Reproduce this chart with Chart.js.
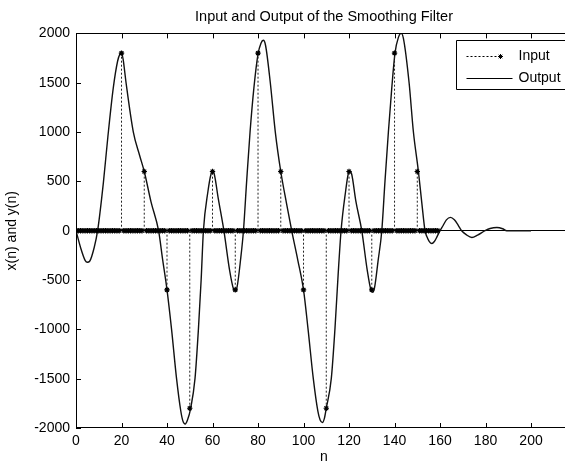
<!DOCTYPE html>
<html>
<head>
<meta charset="utf-8">
<style>
  html, body { margin: 0; padding: 0; overflow: hidden; background: #fff; }
</style>
<script src="https://cdn.jsdelivr.net/npm/chart.js@4/dist/chart.umd.min.js"></script>
</head>
<body>
<canvas id="grafica" width="565" height="466"></canvas>
<script>
// x(n): one value per sample, n = 0 .. 159
const inputValues = [
  0, 0, 0, 0, 0, 0, 0, 0, 0, 0,
  0, 0, 0, 0, 0, 0, 0, 0, 0, 0,
  1800, 0, 0, 0, 0, 0, 0, 0, 0, 0,
  600, 0, 0, 0, 0, 0, 0, 0, 0, 0,
  -600, 0, 0, 0, 0, 0, 0, 0, 0, 0,
  -1800, 0, 0, 0, 0, 0, 0, 0, 0, 0,
  600, 0, 0, 0, 0, 0, 0, 0, 0, 0,
  -600, 0, 0, 0, 0, 0, 0, 0, 0, 0,
  1800, 0, 0, 0, 0, 0, 0, 0, 0, 0,
  600, 0, 0, 0, 0, 0, 0, 0, 0, 0,
  -600, 0, 0, 0, 0, 0, 0, 0, 0, 0,
  -1800, 0, 0, 0, 0, 0, 0, 0, 0, 0,
  600, 0, 0, 0, 0, 0, 0, 0, 0, 0,
  -600, 0, 0, 0, 0, 0, 0, 0, 0, 0,
  1800, 0, 0, 0, 0, 0, 0, 0, 0, 0,
  600, 0, 0, 0, 0, 0, 0, 0, 0, 0
];

// y(n)
const outputN = [
  0, 2, 4, 5, 6, 8, 9.5,
  12, 14, 16.4, 18.3, 19.3, 20, 20.7, 22, 25.2, 28, 30, 33, 36.3,
  38, 40, 42, 44.2, 46, 47, 48, 49, 50.4, 52.3, 53.8, 55, 56,
  58, 59.3, 60, 60.8, 62.5, 65, 67.5, 69.2, 70, 70.8, 72.3, 73.6,
  75, 76.5, 78.2, 80, 81.3, 82.3, 83.3, 85.4, 87.6, 90, 92.5, 94.8,
  97.5, 100, 102, 104.3, 106.3, 107.3, 108.3, 109.2, 110, 112.2, 113.8, 115.2, 116.5,
  118.5, 119.7, 120.4, 121.2, 123, 125.6, 128, 129.6, 130.4, 131.2, 132.8, 134.4,
  135.8, 137.3, 138.8, 140.2, 141.7, 142.9, 143.9, 146.4, 148.3, 150.5, 152, 153.4,
  154.2, 155.3, 156.4, 157.5, 158.7, 160, 161.3, 162.8, 164.6, 166.3, 168, 169.5,
  171.5, 174, 176.5, 179.8, 182, 185, 187.5, 189.3, 200
];
const outputValues = [
  0, -170, -300, -320, -310, -170, 0,
  480, 950, 1450, 1720, 1790, 1800, 1740, 1500, 1000, 760, 600, 290, 0,
  -280, -600, -1000, -1500, -1820, -1930, -1960, -1920, -1800, -1500, -1000, -500, 0,
  400, 570, 600, 570, 330, 0, -400, -590, -610, -570, -300, 0,
  500, 1000, 1450, 1790, 1900, 1930, 1880, 1500, 1000, 600, 280, 0,
  -300, -600, -1000, -1500, -1830, -1920, -1945, -1900, -1800, -1500, -1000, -450, 0,
  400, 580, 600, 570, 300, 0, -400, -600, -625, -580, -300, 0,
  500, 1000, 1450, 1800, 1960, 2000, 1950, 1500, 1000, 600, 280, 0,
  -60, -110, -130, -110, -60, 0, 50, 110, 135, 110, 55, 0,
  -40, -69, -45, 0, 22, 32, 20, 0, 0
];

const xTickValues = [0, 20, 40, 60, 80, 100, 120, 140, 160, 180, 200];
const yTickValues = [-2000, -1500, -1000, -500, 0, 500, 1000, 1500, 2000];

const fuente = "'Liberation Sans', Arial, sans-serif";

const puntosEntrada = inputValues.map((v, n) => ({ x: n, y: v }));

// stems: baseline -> value, broken by null
const tallos = [];
inputValues.forEach((v, n) => {
  if (v !== 0) {
    tallos.push({ x: n, y: 0 }, { x: n, y: v }, { x: n, y: null });
  }
});

const puntosSalida = outputN.map((n, i) => ({ x: n, y: outputValues[i] }));

// the original axes run a few px past the right edge of the picture
const extender = {
  id: 'extender',
  afterLayout(chart) {
    const extra = 7;
    const x = chart.scales.x;
    chart.chartArea.right += extra;
    x.right += extra;
    x.width += extra;
    x.configure();
    if (chart.titleBlock) {
      chart.titleBlock.right += extra;
      chart.titleBlock.width += extra;
    }
  }
};

const marco = {
  id: 'marco',
  afterDraw(chart) {
    const { ctx, chartArea: a, scales } = chart;
    const l = Math.round(a.left) + 0.5;
    const t = Math.round(a.top) + 0.5;
    const b = Math.round(a.bottom) - 0.5;
    ctx.save();
    ctx.strokeStyle = '#000';
    ctx.lineWidth = 1;

    // box: left, top, bottom (right side is outside the picture)
    ctx.beginPath();
    ctx.moveTo(a.right, t); ctx.lineTo(l, t); ctx.lineTo(l, b); ctx.lineTo(a.right, b);
    ctx.stroke();

    // inward ticks
    ctx.beginPath();
    scales.x.ticks.forEach(tk => {
      const px = Math.round(scales.x.getPixelForValue(tk.value)) + 0.5;
      ctx.moveTo(px, a.bottom); ctx.lineTo(px, a.bottom - 5);
      ctx.moveTo(px, a.top); ctx.lineTo(px, a.top + 5);
    });
    scales.y.ticks.forEach(tk => {
      const py = Math.round(scales.y.getPixelForValue(tk.value)) + 0.5;
      ctx.moveTo(a.left, py); ctx.lineTo(a.left + 5, py);
    });
    ctx.stroke();

    // legend
    const lx = Math.round(a.right) - 115.5;
    const ly = Math.round(a.top) + 7.5;
    ctx.fillStyle = '#fff';
    ctx.fillRect(lx, ly, 130, 49);
    ctx.beginPath();
    ctx.moveTo(lx + 130, ly); ctx.lineTo(lx, ly); ctx.lineTo(lx, ly + 49); ctx.lineTo(lx + 130, ly + 49);
    ctx.stroke();

    ctx.font = '14px ' + fuente;
    ctx.fillStyle = '#000';
    ctx.textBaseline = 'middle';

    ctx.setLineDash([2, 2]);
    ctx.beginPath();
    ctx.moveTo(lx + 10, ly + 16); ctx.lineTo(lx + 44, ly + 16);
    ctx.stroke();
    ctx.setLineDash([]);
    Chart.helpers.drawPoint(ctx, { pointStyle: 'star', radius: 2.5, borderWidth: 1 }, lx + 44, ly + 16);
    ctx.fillText(chart.data.datasets[0].label, lx + 62, ly + 16);

    ctx.beginPath();
    ctx.moveTo(lx + 10, ly + 38); ctx.lineTo(lx + 56, ly + 38);
    ctx.stroke();
    ctx.fillText(chart.data.datasets[2].label, lx + 62, ly + 38);
    ctx.restore();
  }
};

new Chart(document.getElementById('grafica'), {
  type: 'line',
  data: {
    datasets: [
      {
        label: 'Input',
        data: puntosEntrada,
        showLine: false,
        pointStyle: 'star',
        pointRadius: 2.7,
        pointBorderWidth: 1.2,
        borderColor: '#000',
        backgroundColor: '#000'
      },
      {
        label: 'stems',
        data: tallos,
        spanGaps: false,
        pointRadius: 0,
        borderColor: '#222',
        borderWidth: 1,
        borderDash: [2, 2]
      },
      {
        label: 'Output',
        data: puntosSalida,
        pointRadius: 0,
        borderColor: '#111',
        borderWidth: 1.4,
        cubicInterpolationMode: 'monotone'
      }
    ]
  },
  options: {
    responsive: false,
    animation: false,
    devicePixelRatio: 1,
    layout: { padding: 0, autoPadding: false },
    plugins: {
      legend: { display: false },
      tooltip: { enabled: false },
      title: {
        display: true,
        text: 'Input and Output of the Smoothing Filter',
        fullSize: false,
        color: '#000',
        font: { family: fuente, size: 14.5, weight: 'normal' },
        padding: { top: 8, bottom: 8 }
      }
    },
    scales: {
      x: {
        type: 'linear',
        min: 0,
        max: 218,
        afterBuildTicks: s => { s.ticks = xTickValues.map(v => ({ value: v })); },
        afterFit: s => { s.height = 38; },
        grid: { display: false, drawTicks: false },
        border: { display: false },
        ticks: { color: '#000', padding: 5, maxRotation: 0, font: { family: fuente, size: 14 }, callback: v => String(v) },
        title: { display: true, text: 'n', color: '#000', padding: 0, font: { family: fuente, size: 14 } }
      },
      y: {
        min: -2000,
        max: 2000,
        afterBuildTicks: s => { s.ticks = yTickValues.map(v => ({ value: v })); },
        afterFit: s => { s.width = 76; },
        grid: {
          drawTicks: false,
          color: c => (c.tick && c.tick.value === 0 ? '#000' : 'rgba(0,0,0,0)')
        },
        border: { display: false },
        ticks: { color: '#000', padding: 6, font: { family: fuente, size: 14 }, callback: v => String(v) },
        title: { display: true, text: 'x(n) and y(n)', color: '#000', padding: { top: 4, bottom: 4 }, font: { family: fuente, size: 14 } }
      }
    }
  },
  plugins: [extender, marco]
});
</script>
</body>
</html>
